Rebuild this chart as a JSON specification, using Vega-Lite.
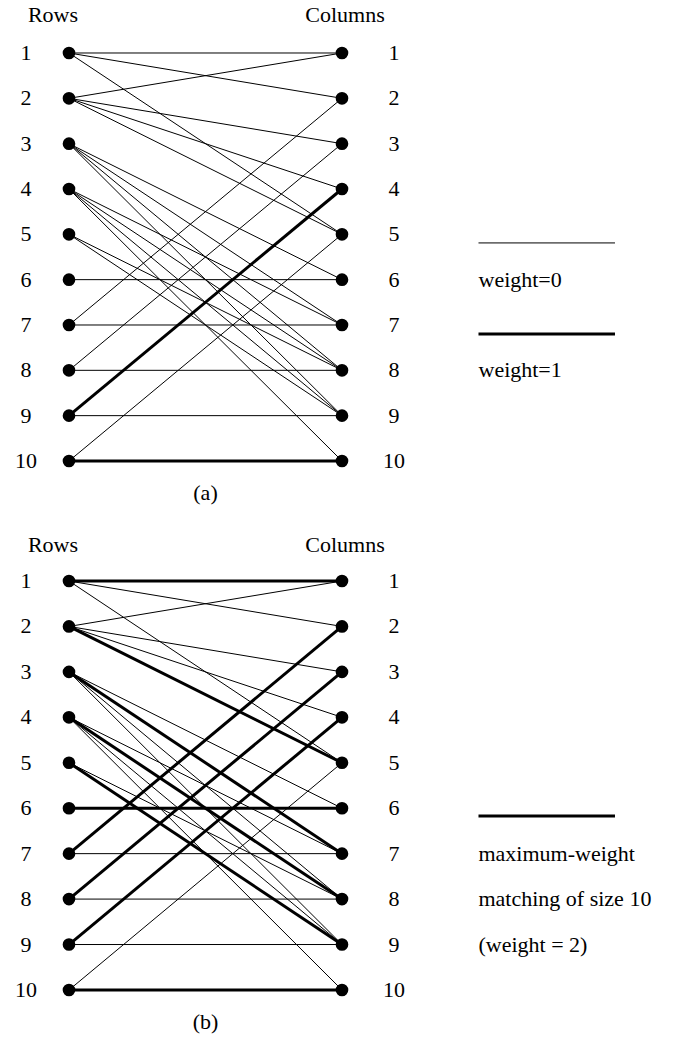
{
  "$schema": "https://vega.github.io/schema/vega-lite/v6.json",
  "padding": 0,
  "spacing": 0,
  "config": {
    "view": {"stroke": null},
    "text": {"font": "Liberation Serif", "fontSize": 22, "color": "black"},
    "concat": {"spacing": 0}
  },
  "datasets": {
    "edges": [
      {"row": 1, "col": 1, "weight": 0, "matched": 1},
      {"row": 1, "col": 2, "weight": 0, "matched": 0},
      {"row": 1, "col": 5, "weight": 0, "matched": 0},
      {"row": 2, "col": 1, "weight": 0, "matched": 0},
      {"row": 2, "col": 3, "weight": 0, "matched": 0},
      {"row": 2, "col": 4, "weight": 0, "matched": 0},
      {"row": 2, "col": 5, "weight": 0, "matched": 1},
      {"row": 3, "col": 6, "weight": 0, "matched": 0},
      {"row": 3, "col": 7, "weight": 0, "matched": 1},
      {"row": 3, "col": 8, "weight": 0, "matched": 0},
      {"row": 3, "col": 9, "weight": 0, "matched": 0},
      {"row": 4, "col": 7, "weight": 0, "matched": 0},
      {"row": 4, "col": 8, "weight": 0, "matched": 1},
      {"row": 4, "col": 9, "weight": 0, "matched": 0},
      {"row": 4, "col": 10, "weight": 0, "matched": 0},
      {"row": 5, "col": 8, "weight": 0, "matched": 0},
      {"row": 5, "col": 9, "weight": 0, "matched": 1},
      {"row": 6, "col": 6, "weight": 0, "matched": 1},
      {"row": 7, "col": 2, "weight": 0, "matched": 1},
      {"row": 7, "col": 7, "weight": 0, "matched": 0},
      {"row": 8, "col": 3, "weight": 0, "matched": 1},
      {"row": 8, "col": 8, "weight": 0, "matched": 0},
      {"row": 9, "col": 4, "weight": 1, "matched": 1},
      {"row": 9, "col": 9, "weight": 0, "matched": 0},
      {"row": 10, "col": 5, "weight": 0, "matched": 0},
      {"row": 10, "col": 10, "weight": 1, "matched": 1}
    ],
    "nodes": [
      {"id": 1}, {"id": 2}, {"id": 3}, {"id": 4}, {"id": 5},
      {"id": 6}, {"id": 7}, {"id": 8}, {"id": 9}, {"id": 10}
    ]
  },
  "vconcat": [
    {
      "width": 689,
      "height": 522,
      "encoding": {
        "x": {"type": "quantitative", "scale": {"domain": [-0.2527, 2.2711], "nice": false, "zero": false}, "axis": null},
        "y": {"type": "quantitative", "scale": {"domain": [-0.169, 11.346], "nice": false, "zero": false, "reverse": true}, "axis": null}
      },
      "layer": [
        {
          "data": {"name": "edges"},
          "mark": {"type": "rule", "color": "black"},
          "encoding": {
            "x": {"datum": 0},
            "x2": {"datum": 1},
            "y": {"field": "row"},
            "y2": {"field": "col"},
            "strokeWidth": {"field": "weight", "type": "quantitative", "scale": {"domain": [0, 1], "range": [1, 3]}, "legend": null}
          }
        },
        {
          "data": {"name": "nodes"},
          "mark": {"type": "circle", "color": "black", "opacity": 1, "size": 160},
          "encoding": {"x": {"datum": 0}, "y": {"field": "id"}}
        },
        {
          "data": {"name": "nodes"},
          "mark": {"type": "circle", "color": "black", "opacity": 1, "size": 160},
          "encoding": {"x": {"datum": 1}, "y": {"field": "id"}}
        },
        {
          "data": {"name": "nodes"},
          "mark": {"type": "text", "dx": -43, "align": "center", "baseline": "middle"},
          "encoding": {"x": {"datum": 0}, "y": {"field": "id"}, "text": {"field": "id"}}
        },
        {
          "data": {"name": "nodes"},
          "mark": {"type": "text", "dx": 52, "align": "center", "baseline": "middle"},
          "encoding": {"x": {"datum": 1}, "y": {"field": "id"}, "text": {"field": "id"}}
        },
        {
          "data": {"values": [{"label": "Rows"}]},
          "mark": {"type": "text", "dx": -16, "align": "center", "baseline": "middle"},
          "encoding": {"x": {"datum": 0}, "y": {"datum": 0.162}, "text": {"field": "label"}}
        },
        {
          "data": {"values": [{"label": "Columns"}]},
          "mark": {"type": "text", "dx": 3, "align": "center", "baseline": "middle"},
          "encoding": {"x": {"datum": 1}, "y": {"datum": 0.162}, "text": {"field": "label"}}
        },
        {
          "data": {"values": [{"label": "(a)"}]},
          "mark": {"type": "text", "align": "center", "baseline": "middle"},
          "encoding": {"x": {"datum": 0.5}, "y": {"datum": 10.71}, "text": {"field": "label"}}
        },
        {
          "data": {"values": [{"label": "weight=0", "weight": 0}]},
          "layer": [
            {
              "mark": {"type": "rule", "color": "black"},
              "encoding": {
                "x": {"datum": 1.5}, "x2": {"datum": 2.0}, "y": {"datum": 5.19},
                "strokeWidth": {"field": "weight", "type": "quantitative", "scale": {"domain": [0, 1], "range": [1, 3]}, "legend": null}
              }
            },
            {
              "mark": {"type": "text", "align": "left", "baseline": "middle"},
              "encoding": {"x": {"datum": 1.5}, "y": {"datum": 6.0}, "text": {"field": "label"}}
            }
          ]
        },
        {
          "data": {"values": [{"label": "weight=1", "weight": 1}]},
          "layer": [
            {
              "mark": {"type": "rule", "color": "black"},
              "encoding": {
                "x": {"datum": 1.5}, "x2": {"datum": 2.0}, "y": {"datum": 7.2},
                "strokeWidth": {"field": "weight", "type": "quantitative", "scale": {"domain": [0, 1], "range": [1, 3]}, "legend": null}
              }
            },
            {
              "mark": {"type": "text", "align": "left", "baseline": "middle"},
              "encoding": {"x": {"datum": 1.5}, "y": {"datum": 8.0}, "text": {"field": "label"}}
            }
          ]
        }
      ]
    },
    {
      "width": 689,
      "height": 522,
      "encoding": {
        "x": {"type": "quantitative", "scale": {"domain": [-0.2527, 2.2711], "nice": false, "zero": false}, "axis": null},
        "y": {"type": "quantitative", "scale": {"domain": [-0.2984, 11.189], "nice": false, "zero": false, "reverse": true}, "axis": null}
      },
      "layer": [
        {
          "data": {"name": "edges"},
          "mark": {"type": "rule", "color": "black"},
          "encoding": {
            "x": {"datum": 0},
            "x2": {"datum": 1},
            "y": {"field": "row"},
            "y2": {"field": "col"},
            "strokeWidth": {"field": "matched", "type": "quantitative", "scale": {"domain": [0, 1], "range": [1, 3]}, "legend": null}
          }
        },
        {
          "data": {"name": "nodes"},
          "mark": {"type": "circle", "color": "black", "opacity": 1, "size": 160},
          "encoding": {"x": {"datum": 0}, "y": {"field": "id"}}
        },
        {
          "data": {"name": "nodes"},
          "mark": {"type": "circle", "color": "black", "opacity": 1, "size": 160},
          "encoding": {"x": {"datum": 1}, "y": {"field": "id"}}
        },
        {
          "data": {"name": "nodes"},
          "mark": {"type": "text", "dx": -43, "align": "center", "baseline": "middle"},
          "encoding": {"x": {"datum": 0}, "y": {"field": "id"}, "text": {"field": "id"}}
        },
        {
          "data": {"name": "nodes"},
          "mark": {"type": "text", "dx": 52, "align": "center", "baseline": "middle"},
          "encoding": {"x": {"datum": 1}, "y": {"field": "id"}, "text": {"field": "id"}}
        },
        {
          "data": {"values": [{"label": "Rows"}]},
          "mark": {"type": "text", "dx": -16, "align": "center", "baseline": "middle"},
          "encoding": {"x": {"datum": 0}, "y": {"datum": 0.208}, "text": {"field": "label"}}
        },
        {
          "data": {"values": [{"label": "Columns"}]},
          "mark": {"type": "text", "dx": 3, "align": "center", "baseline": "middle"},
          "encoding": {"x": {"datum": 1}, "y": {"datum": 0.208}, "text": {"field": "label"}}
        },
        {
          "data": {"values": [{"label": "(b)"}]},
          "mark": {"type": "text", "align": "center", "baseline": "middle"},
          "encoding": {"x": {"datum": 0.5}, "y": {"datum": 10.70}, "text": {"field": "label"}}
        },
        {
          "data": {"values": [{"label": "maximum-weight", "weight": 1}]},
          "layer": [
            {
              "mark": {"type": "rule", "color": "black"},
              "encoding": {
                "x": {"datum": 1.5}, "x2": {"datum": 2.0}, "y": {"datum": 6.17},
                "strokeWidth": {"field": "weight", "type": "quantitative", "scale": {"domain": [0, 1], "range": [1, 3]}, "legend": null}
              }
            },
            {
              "mark": {"type": "text", "align": "left", "baseline": "middle"},
              "encoding": {"x": {"datum": 1.5}, "y": {"datum": 7.0}, "text": {"field": "label"}}
            }
          ]
        },
        {
          "data": {"values": [{"label": "matching of size 10"}]},
          "mark": {"type": "text", "align": "left", "baseline": "middle"},
          "encoding": {"x": {"datum": 1.5}, "y": {"datum": 8.0}, "text": {"field": "label"}}
        },
        {
          "data": {"values": [{"label": "(weight = 2)"}]},
          "mark": {"type": "text", "align": "left", "baseline": "middle"},
          "encoding": {"x": {"datum": 1.5}, "y": {"datum": 9.0}, "text": {"field": "label"}}
        }
      ]
    }
  ]
}
